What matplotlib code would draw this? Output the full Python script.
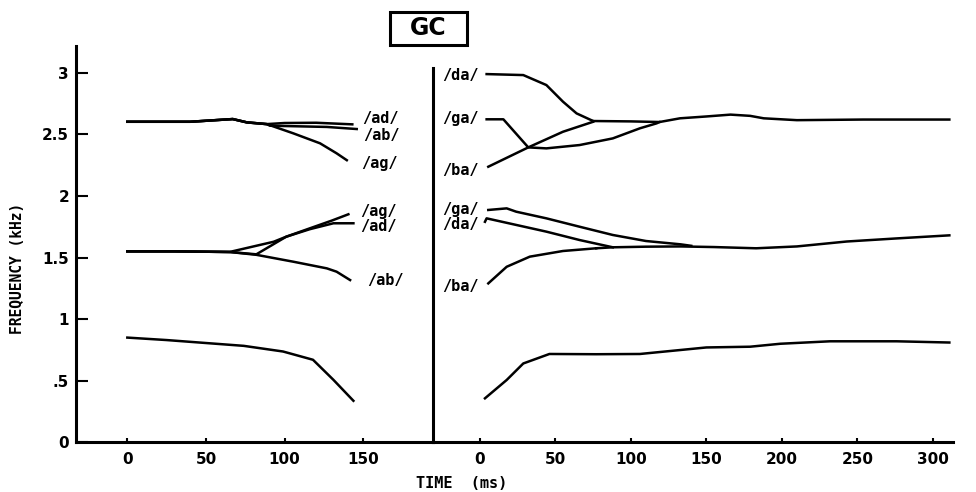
import matplotlib
matplotlib.use("Agg")
import matplotlib.pyplot as plt
from matplotlib.patches import Rectangle

# ---- left panel: VC syllables (/ab/, /ad/, /ag/) ----
vc_f1_t = [0, 25, 51, 74, 99, 118, 131, 143.7]
vc_f1_f = [0.85, 0.83, 0.805, 0.783, 0.737, 0.67, 0.507, 0.337]

vc_f2_t = {
    "ag": [0, 30, 65, 93, 101, 116, 130, 140.5],
    "ad": [0, 30, 65, 82, 101, 116, 131, 143.7],
    "ab": [0, 30, 65, 82, 105.5, 126.8, 133, 141.6],
}
vc_f2_f = {
    "ag": [1.55, 1.55, 1.545, 1.628, 1.669, 1.737, 1.80, 1.851],
    "ad": [1.55, 1.55, 1.545, 1.526, 1.669, 1.73, 1.778, 1.778],
    "ab": [1.55, 1.55, 1.545, 1.522, 1.466, 1.412, 1.385, 1.317],
}

vc_f3_t = {
    "ag": [0, 40, 67, 76, 88.6, 105.5, 122.5, 133, 139.5],
    "ad": [0, 40, 67, 76, 88.6, 100, 120, 143],
    "ab": [0, 40, 67, 76, 88.6, 90.7, 126.8, 145.8],
}
vc_f3_f = {
    "ag": [2.602, 2.602, 2.624, 2.597, 2.583, 2.508, 2.427, 2.346, 2.29],
    "ad": [2.602, 2.602, 2.624, 2.597, 2.583, 2.592, 2.594, 2.581],
    "ab": [2.602, 2.602, 2.624, 2.597, 2.583, 2.57, 2.56, 2.543],
}

vc_labels = ["/ad/", "/ab/", "/ag/", "/ag/", "/ad/", "/ab/"]
vc_label_t = [149, 149.6, 148.6, 148, 148, 152.6]
vc_label_f = [2.63, 2.494, 2.265, 1.872, 1.75, 1.317]

# ---- right panel: CV syllables (/ba/, /da/, /ga/) ----
cv_f1_t = [3.3, 17.7, 28.7, 46, 77, 106, 150, 179, 199, 232, 276, 311]
cv_f1_f = [0.357, 0.506, 0.64, 0.717, 0.715, 0.717, 0.77, 0.776, 0.80, 0.82, 0.82, 0.81]

cv_f2_t = {
    "ga": [5.5, 17.7, 24, 44, 66, 88, 110, 133, 140],
    "da": [3.3, 4.4, 22, 44, 66, 88],
    "ba": [5.5, 17.7, 33, 55, 77],
}
cv_f2_f = {
    "ga": [1.886, 1.899, 1.872, 1.818, 1.75, 1.683, 1.634, 1.607, 1.595],
    "da": [1.79, 1.818, 1.77, 1.71, 1.642, 1.583],
    "ba": [1.29, 1.425, 1.507, 1.553, 1.575],
}
cv_f2_tail_t = [77, 88, 110, 133, 155, 183, 210, 243, 276, 311]
cv_f2_tail_f = [1.575, 1.583, 1.588, 1.59, 1.585, 1.575, 1.59, 1.63, 1.655, 1.68]

cv_f3_t = {
    "da": [4.4, 28.7, 44, 55, 64, 75],
    "ga": [4.4, 15.5, 32, 44, 66, 88, 106, 117, 119],
    "ba": [5.5, 32, 55, 75],
}
cv_f3_f = {
    "da": [2.989, 2.981, 2.90, 2.765, 2.67, 2.608],
    "ga": [2.622, 2.622, 2.394, 2.386, 2.413, 2.467, 2.549, 2.589, 2.60],
    "ba": [2.237, 2.394, 2.521, 2.602],
}
cv_f3_tail_t = [75, 100, 119, 132.5, 150, 166, 179, 188, 210, 254, 311]
cv_f3_tail_f = [2.608, 2.605, 2.60, 2.63, 2.645, 2.66, 2.65, 2.63, 2.615, 2.62, 2.62]

cv_labels = ["/da/", "/ga/", "/ba/", "/ga/", "/da/", "/ba/"]
cv_label_t = [-25, -25, -25, -25, -25, -25]
cv_label_f = [2.98, 2.63, 2.21, 1.89, 1.772, 1.263]

yticks = [0, 0.5, 1, 1.5, 2, 2.5, 3]
yticklabels = ["0", ".5", "1", "1.5", "2", "2.5", "3"]

LW = 1.8
SPINE_W = 2.2
tick_font = dict(family="DejaVu Sans", weight="bold", size=11)
lab_font = dict(family="DejaVu Sans Mono", weight="bold", size=11)

fig = plt.figure(figsize=(9.76, 4.92), dpi=100)
axL = fig.add_axes([0.0779, 0.1010, 0.3661, 0.8055])
axR = fig.add_axes([0.4440, 0.1010, 0.5324, 0.8055])

for ax in (axL, axR):
    ax.set_ylim(0, 3.217)
    for s in ("top", "right"):
        ax.spines[s].set_visible(False)
    for s in ("left", "bottom"):
        ax.spines[s].set_linewidth(SPINE_W)
    ax.tick_params(axis="x", direction="in", length=3, width=1.5, pad=7)
    for lbl in ax.get_xticklabels():
        pass

# left panel
axL.set_xlim(-32.6, 194.5)
axL.plot(vc_f1_t, vc_f1_f, color="black", lw=LW)
for k in vc_f2_t:
    axL.plot(vc_f2_t[k], vc_f2_f[k], color="black", lw=LW)
for k in vc_f3_t:
    axL.plot(vc_f3_t[k], vc_f3_f[k], color="black", lw=LW)
for txt, t, f in zip(vc_labels, vc_label_t, vc_label_f):
    axL.text(t, f, txt, ha="left", va="center", **lab_font)
axL.set_xticks([0, 50, 100, 150])
axL.set_yticks(yticks)
axL.set_yticklabels(yticklabels)
axL.tick_params(axis="y", direction="in", length=8.5, width=1.5, pad=5)

# right panel
axR.set_xlim(-30.9, 313.4)
axR.spines["left"].set_bounds(0, 3.04)
axR.plot(cv_f1_t, cv_f1_f, color="black", lw=LW)
for k in cv_f2_t:
    axR.plot(cv_f2_t[k], cv_f2_f[k], color="black", lw=LW)
axR.plot(cv_f2_tail_t, cv_f2_tail_f, color="black", lw=LW)
for k in cv_f3_t:
    axR.plot(cv_f3_t[k], cv_f3_f[k], color="black", lw=LW)
axR.plot(cv_f3_tail_t, cv_f3_tail_f, color="black", lw=LW)
for txt, t, f in zip(cv_labels, cv_label_t, cv_label_f):
    axR.text(t, f, txt, ha="left", va="center", **lab_font)
axR.set_xticks([0, 50, 100, 150, 200, 250, 300])
axR.set_yticks([])

for ax in (axL, axR):
    for lbl in ax.get_xticklabels() + ax.get_yticklabels():
        lbl.set_fontfamily(tick_font["family"])
        lbl.set_fontweight(tick_font["weight"])
        lbl.set_fontsize(tick_font["size"])

fig.text(0.473, 0.018, "TIME  (ms)", ha="center", va="center",
         family="DejaVu Sans Mono", weight="bold", size=11)
fig.text(0.018, 0.454, "FREQUENCY (kHz)", ha="center", va="center",
         rotation=90, family="DejaVu Sans Mono", weight="bold", size=10.5)

# boxed title
fig.patches.append(Rectangle((0.3996, 0.9085), 0.0786, 0.067, transform=fig.transFigure,
                             fill=False, edgecolor="black", linewidth=2.2))
fig.text(0.4389, 0.9425, "GC", ha="center", va="center",
         family="DejaVu Sans", weight="bold", size=17)

fig.savefig("out.png", dpi=100)
